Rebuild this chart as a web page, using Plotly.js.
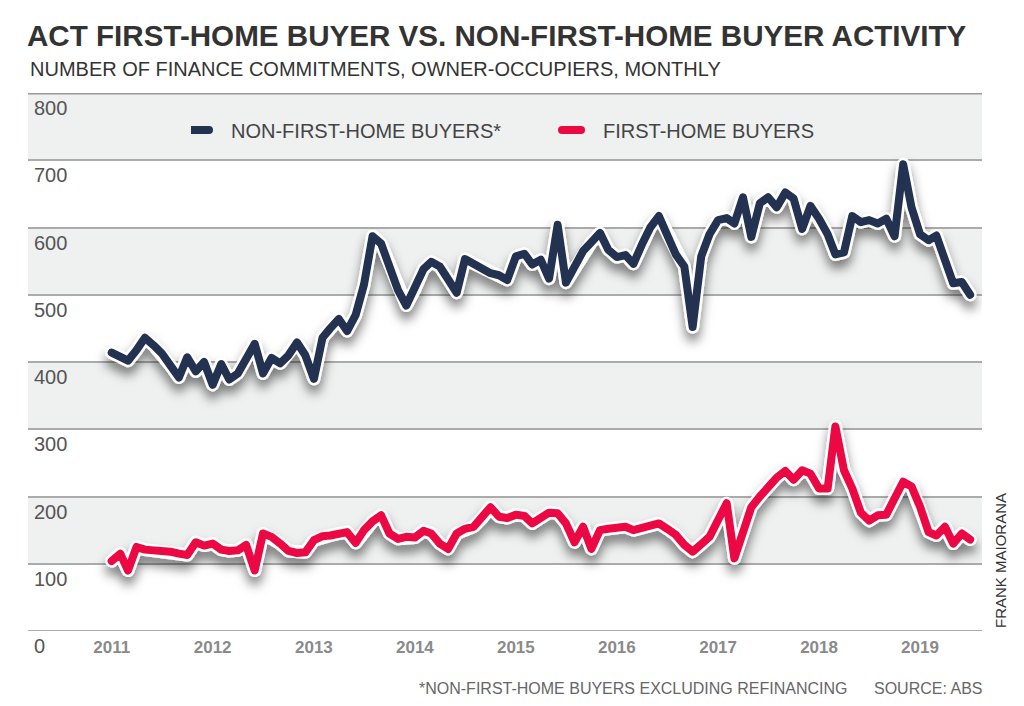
<!DOCTYPE html>
<html>
<head>
<meta charset="utf-8">
<script src="https://cdn.plot.ly/plotly-3.0.1.min.js"></script>
<style>
  body { margin: 0; background: #fff; }
  #chart { width: 1024px; height: 706px; }
  .scatterlayer .js-line { stroke-linejoin: round !important; stroke-linecap: round !important; }
</style>
</head>
<body>
<div id="chart"></div>
<script>
// ---- data: monthly, Jan 2011 - Jul 2019 ----
const months = [
  '2011-01','2011-02','2011-03','2011-04','2011-05','2011-06','2011-07','2011-08','2011-09','2011-10','2011-11','2011-12',
  '2012-01','2012-02','2012-03','2012-04','2012-05','2012-06','2012-07','2012-08','2012-09','2012-10','2012-11','2012-12',
  '2013-01','2013-02','2013-03','2013-04','2013-05','2013-06','2013-07','2013-08','2013-09','2013-10','2013-11','2013-12',
  '2014-01','2014-02','2014-03','2014-04','2014-05','2014-06','2014-07','2014-08','2014-09','2014-10','2014-11','2014-12',
  '2015-01','2015-02','2015-03','2015-04','2015-05','2015-06','2015-07','2015-08','2015-09','2015-10','2015-11','2015-12',
  '2016-01','2016-02','2016-03','2016-04','2016-05','2016-06','2016-07','2016-08','2016-09','2016-10','2016-11','2016-12',
  '2017-01','2017-02','2017-03','2017-04','2017-05','2017-06','2017-07','2017-08','2017-09','2017-10','2017-11','2017-12',
  '2018-01','2018-02','2018-03','2018-04','2018-05','2018-06','2018-07','2018-08','2018-09','2018-10','2018-11','2018-12',
  '2019-01','2019-02','2019-03','2019-04','2019-05','2019-06','2019-07'
];

const nonFirstHome = [
  414,408,402,418,436,425,413,395,377,407,386,400,
  366,397,374,383,405,427,383,406,398,410,429,410,
  375,436,450,464,446,470,515,587,576,542,507,484,
  508,538,549,542,523,503,553,546,538,532,529,522,
  557,561,545,552,524,604,518,540,565,578,592,567,
  556,559,546,575,600,617,590,560,542,452,557,590,
  611,614,606,645,586,636,645,630,652,643,598,632,
  613,590,560,563,617,608,611,606,613,587,694,630,
  590,581,588,551,517,519,500
];

const firstHome = [
  104,115,90,125,121,120,120,118,115,113,132,127,
  130,121,119,120,128,90,145,140,130,119,116,117,
  135,141,142,145,147,131,150,163,172,145,137,140,
  139,149,145,130,122,145,152,155,168,184,170,168,
  173,171,160,167,176,175,160,132,155,122,150,152,
  154,155,150,153,157,160,152,143,128,118,129,140,
  165,190,108,150,184,200,215,228,238,225,239,234,
  212,212,304,239,212,176,164,172,173,198,222,215,
  185,147,142,155,130,145,136
];

const seriesNames = ['NON-FIRST-HOME BUYERS*', 'FIRST-HOME BUYERS'];
const yTickVals = [0,100,200,300,400,500,600,700,800];
const yTickText = ['0','100','200','300','400','500','600','700','800'];
const xTickVals = ['2011-01-01','2012-01-01','2013-01-01','2014-01-01','2015-01-01','2016-01-01','2017-01-01','2018-01-01','2019-01-01'];
const xTickText = ['2011','2012','2013','2014','2015','2016','2017','2018','2019'];
const bandStarts = [100,300,500,700];   // shaded horizontal bands [v, v+100]

const BLUE = '#243251';
const RED = '#ec0842';
const FONT = 'Liberation Sans, Arial, Helvetica, sans-serif';

const traces = [
  { x: months, y: nonFirstHome, type: 'scatter', mode: 'lines', line: { color: '#ffffff', width: 13 }, showlegend: false, hoverinfo: 'skip' },
  { x: months, y: nonFirstHome, type: 'scatter', mode: 'lines', name: seriesNames[0], line: { color: BLUE, width: 8 } },
  { x: months, y: firstHome, type: 'scatter', mode: 'lines', line: { color: '#ffffff', width: 13 }, showlegend: false, hoverinfo: 'skip' },
  { x: months, y: firstHome, type: 'scatter', mode: 'lines', name: seriesNames[1], line: { color: RED, width: 8 } }
];

const shapes = bandStarts.map(v => ({
  type: 'rect', xref: 'paper', yref: 'y', x0: 0, x1: 1, y0: v, y1: v + 100,
  fillcolor: '#eff0f0', line: { width: 0 }, layer: 'below'
}));
shapes.push({ type: 'line', xref: 'paper', yref: 'y', x0: 0, x1: 1, y0: 800, y1: 800, line: { color: '#9a9a9a', width: 3 }, layer: 'below' });
shapes.push({ type: 'line', xref: 'paper', yref: 'y', x0: 0, x1: 1, y0: 0, y1: 0, line: { color: '#ababab', width: 2 }, layer: 'below' });

const layout = {
  width: 1024, height: 706,
  margin: { l: 28, r: 42, t: 93, b: 75 },
  paper_bgcolor: '#ffffff', plot_bgcolor: '#ffffff',
  font: { family: FONT, color: '#444' },
  title: {
    text: 'ACT FIRST-HOME BUYER VS. NON-FIRST-HOME BUYER ACTIVITY',
    font: { family: FONT, size: 29.6, color: '#333333', weight: 'bold' },
    xref: 'container', yref: 'container', x: 27 / 1024, xanchor: 'left', y: 1 - 36 / 706, yanchor: 'middle'
  },
  showlegend: true,
  legend: {
    orientation: 'h', x: (191 - 28) / 954, xanchor: 'left', y: (631 - 130) / 538, yanchor: 'middle',
    font: { family: FONT, size: 20, color: '#444' }, bgcolor: 'rgba(0,0,0,0)', entrywidth: 327, traceorder: 'normal'
  },
  xaxis: {
    type: 'date', range: ['2010-03-04 12:00', '2019-08-13'],
    showgrid: false, zeroline: false, showline: false, ticks: '',
    tickmode: 'array', tickvals: xTickVals, ticktext: xTickText,
    tickfont: { family: FONT, size: 17, color: '#8a8a8a', weight: 'bold' },
    ticklabelstandoff: 4, fixedrange: true
  },
  yaxis: {
    range: [0, 800], tickmode: 'array', tickvals: yTickVals, ticktext: yTickText,
    showgrid: true, gridcolor: '#ababab', gridwidth: 2, zeroline: false, showline: false, ticks: '',
    ticklabelposition: 'inside', ticklabelshift: 15, ticklabeloverflow: 'allow', ticklabelstandoff: 3,
    tickfont: { family: FONT, size: 20, color: '#555555' }, fixedrange: true
  },
  shapes: shapes,
  annotations: [
    { text: 'NUMBER OF FINANCE COMMITMENTS, OWNER-OCCUPIERS, MONTHLY', xref: 'paper', yref: 'paper', x: 0, xanchor: 'left', y: (631 - 69) / 538, yanchor: 'middle', showarrow: false, font: { family: FONT, size: 20, color: '#333333' } },
    { text: '*NON-FIRST-HOME BUYERS EXCLUDING REFINANCING', xref: 'paper', yref: 'paper', x: (849 - 28) / 954, xanchor: 'right', y: (631 - 688) / 538, yanchor: 'middle', showarrow: false, font: { family: FONT, size: 16, color: '#666666' } },
    { text: 'SOURCE: ABS', xref: 'paper', yref: 'paper', x: (984 - 28) / 954, xanchor: 'right', y: (631 - 688) / 538, yanchor: 'middle', showarrow: false, font: { family: FONT, size: 16, color: '#666666' } },
    { text: 'FRANK MAIORANA', xref: 'paper', yref: 'paper', x: (1000 - 28) / 954, xanchor: 'center', y: (631 - 561) / 538, yanchor: 'middle', textangle: -90, showarrow: false, font: { family: FONT, size: 15, color: '#333333' } }
  ]
};

Plotly.newPlot('chart', traces, layout, { displayModeBar: false, staticPlot: true }).then(function (gd) {
  // soft drop shadow under the white-outlined lines
  const ns = 'http://www.w3.org/2000/svg';
  const svg = gd.querySelector('.main-svg');
  let defs = svg.querySelector('defs');
  if (!defs) { defs = document.createElementNS(ns, 'defs'); svg.insertBefore(defs, svg.firstChild); }
  const filter = document.createElementNS(ns, 'filter');
  filter.setAttribute('id', 'lineShadow');
  filter.setAttribute('x', '-5%'); filter.setAttribute('y', '-20%');
  filter.setAttribute('width', '110%'); filter.setAttribute('height', '160%');
  const ds = document.createElementNS(ns, 'feDropShadow');
  ds.setAttribute('dx', '0'); ds.setAttribute('dy', '8'); ds.setAttribute('stdDeviation', '5.5');
  ds.setAttribute('flood-color', '#000'); ds.setAttribute('flood-opacity', '0.5');
  filter.appendChild(ds); defs.appendChild(filter);
  const tr = gd.querySelectorAll('.scatterlayer .trace');
  [0, 2].forEach(i => { if (tr[i]) tr[i].setAttribute('filter', 'url(#lineShadow)'); });
  // short rounded legend swatches
  gd.querySelectorAll('.legend .legendlines path').forEach(p => {
    p.setAttribute('d', 'M-1,0h19');
    p.style.strokeLinecap = 'round';
    p.style.strokeWidth = '8px';
  });
});
</script>
</body>
</html>
